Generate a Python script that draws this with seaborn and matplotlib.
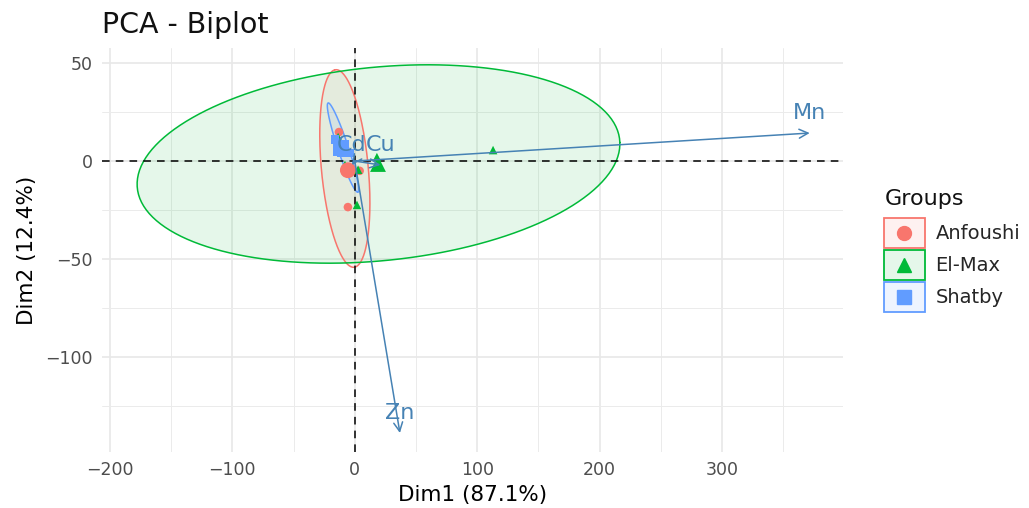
import numpy as np
import pandas as pd
import matplotlib
matplotlib.use("Agg")
import matplotlib.pyplot as plt
from matplotlib.patches import Rectangle
from matplotlib.lines import Line2D
from matplotlib.legend_handler import HandlerBase
import seaborn as sns

# ---------------- data ----------------
groups = ["Anfoushi", "El-Max", "Shatby"]
colors = ["#F8766D", "#00BA38", "#619CFF"]
markers = ["o", "^", "s"]

ind_group = ["Anfoushi"] * 4 + ["El-Max"] * 6 + ["Shatby"] * 4
ind_dim1 = [-12.9, -5.6, -8.0, 4.0,
            113.0, -13.6, 1.8, 18.1, -8.0, 2.7,
            -16.0, -14.0, -11.0, -4.0]
ind_dim2 = [14.8, -23.5, -5.0, -5.0,
            5.6, 12.2, -22.4, 2.0, -2.0, -4.4,
            11.0, 7.0, 4.0, 4.0]

# concentration ellipses (center, half axes, angle in degrees)
ell_cx = [-8.1, 19.4, -9.65]
ell_cy = [-3.8, -1.5, 6.9]
ell_a = [51.0, 197.5, 25.8]
ell_b = [19.0, 49.5, 4.0]
ell_angle = [99.3, 3.19, -61.6]

var_names = ["Cd", "Cu", "Mn", "Zn"]
var_dim1 = [-2.3, 21.0, 371.7, 36.9]
var_dim2 = [-2.0, -2.0, 14.3, -138.8]

title = "PCA - Biplot"
xlabel = "Dim1 (87.1%)"
ylabel = "Dim2 (12.4%)"
legend_title = "Groups"
xticks = [-200, -100, 0, 100, 200, 300]
yticks = [-100, -50, 0, 50]

# ---------------- plot ----------------
sns.set_style("white")
plt.rcParams["font.family"] = ["DejaVu Sans"]

W, H = 1029, 508
fig = plt.figure(figsize=(W / 100, H / 100), dpi=100)
ax = fig.add_axes([102 / W, 1 - 452 / H, (843 - 102) / W, (452 - 48) / H])

ax.set_xlim(-206.5, 398.9)
ax.set_ylim(-148.5, 57.7)

# grid
for v in np.arange(-150, 400, 100):
    ax.axvline(v, color="#EBEBEB", lw=0.7, zorder=0)
for v in xticks:
    ax.axvline(v, color="#E8E8E8", lw=1.2, zorder=0)
for v in [-125, -75, -25, 25]:
    ax.axhline(v, color="#EBEBEB", lw=0.7, zorder=0)
for v in yticks:
    ax.axhline(v, color="#E8E8E8", lw=1.2, zorder=0)
for s in ax.spines.values():
    s.set_visible(False)

pal = dict(zip(groups, colors))
mk = dict(zip(groups, markers))

# ellipses
t = np.linspace(0, 2 * np.pi, 300)
for g, cx, cy, a, b, ang in zip(groups, ell_cx, ell_cy, ell_a, ell_b, ell_angle):
    th = np.deg2rad(ang)
    ex = cx + a * np.cos(t) * np.cos(th) - b * np.sin(t) * np.sin(th)
    ey = cy + a * np.cos(t) * np.sin(th) + b * np.sin(t) * np.cos(th)
    ax.fill(ex, ey, color=pal[g], alpha=0.1, lw=0, zorder=1)
    ax.plot(ex, ey, color=pal[g], lw=1.1, zorder=2)

# reference lines
ax.axhline(0, color="black", lw=1.1, ls=(0, (5, 4)), zorder=2.5)
ax.axvline(0, color="black", lw=1.1, ls=(0, (5, 4)), zorder=2.5)

df = pd.DataFrame({"Dim1": ind_dim1, "Dim2": ind_dim2, "Groups": ind_group})
sns.scatterplot(data=df, x="Dim1", y="Dim2", hue="Groups", style="Groups",
                palette=pal, markers=mk, hue_order=groups, style_order=groups,
                s=38, linewidth=0, legend=False, ax=ax, zorder=3)

means = df.groupby("Groups", sort=False)[["Dim1", "Dim2"]].mean().reset_index()
sns.scatterplot(data=means, x="Dim1", y="Dim2", hue="Groups", style="Groups",
                palette=pal, markers=mk, hue_order=groups, style_order=groups,
                s=130, linewidth=0, legend=False, ax=ax, zorder=4)

# variable arrows
arrow_col = "#4682B4"
for n, vx, vy in zip(var_names, var_dim1, var_dim2):
    ax.annotate("", xy=(vx, vy), xytext=(0, 0),
                arrowprops=dict(arrowstyle="->", color=arrow_col, lw=1.1,
                                mutation_scale=16, shrinkA=0, shrinkB=0),
                zorder=5)
    ax.annotate(n, xy=(vx, vy), xytext=(0, 7), textcoords="offset points",
                ha="center", va="bottom", color=arrow_col, fontsize=16,
                family="DejaVu Sans", zorder=6)

ax.set_xticks(xticks)
ax.set_yticks(yticks)
ax.tick_params(axis="both", colors="#333333", length=3.5, width=1,
               labelsize=12.5, labelcolor="#4D4D4D", pad=3)
ax.set_xlabel(xlabel, fontsize=15.5, color="black", labelpad=4)
ax.set_ylabel(ylabel, fontsize=15.5, color="black", labelpad=6)

fig.text(102 / W, 1 - 33 / H, title, fontsize=20.5, ha="left", va="baseline",
         color="#111111")


# legend: box key with centred marker
class BoxMarkerHandler(HandlerBase):
    def create_artists(self, legend, orig_handle, xdescent, ydescent,
                       width, height, fontsize, trans):
        c = orig_handle.get_color()
        rect = Rectangle((-xdescent, -ydescent), width, height,
                         facecolor=matplotlib.colors.to_rgba(c, 0.1),
                         edgecolor=c, lw=1.3, transform=trans)
        mark = Line2D([-xdescent + width / 2], [-ydescent + height / 2],
                      marker=orig_handle.get_marker(), color=c, ls="",
                      markersize=10, transform=trans)
        return [rect, mark]


fig.text(885 / W, 1 - 199 / H, legend_title, fontsize=16, ha="left",
         va="center", color="#111111")
handles = [Line2D([], [], marker=m, color=c, ls="")
           for c, m in zip(colors, markers)]
leg = fig.legend(handles, groups, loc="upper left",
                 bbox_to_anchor=(884 / W, 1 - 218 / H), frameon=False,
                 fontsize=14, handlelength=2.1, handleheight=2.0,
                 labelspacing=0.1, handletextpad=0.55, borderaxespad=0,
                 borderpad=0, handler_map={Line2D: BoxMarkerHandler()})

fig.savefig("out.png", dpi=100)
